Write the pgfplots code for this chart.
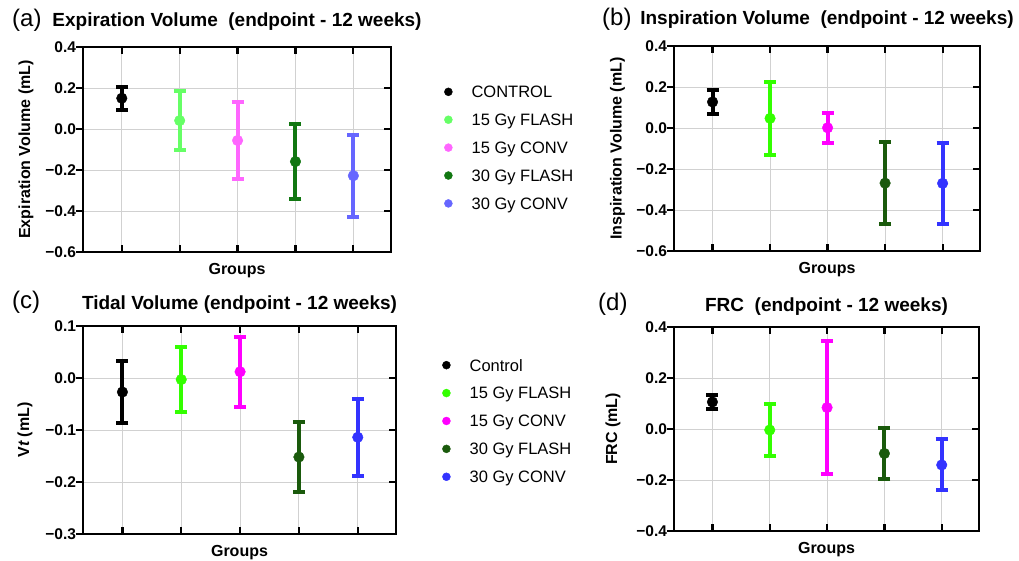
\documentclass[border=0pt]{standalone}
\usepackage{fontspec}
\setmainfont{Liberation Sans}
\usepackage{pgfplots}
\pgfplotsset{compat=1.18}

% colours of the two colour sets
\definecolor{aGreen}{RGB}{102,255,102}
\definecolor{aPink}{RGB}{255,102,255}
\definecolor{aDark}{RGB}{17,119,17}
\definecolor{aBlue}{RGB}{102,102,255}
\definecolor{bGreen}{RGB}{51,255,0}
\definecolor{bPink}{RGB}{255,0,255}
\definecolor{bDark}{RGB}{26,90,12}
\definecolor{bBlue}{RGB}{51,51,255}

\pgfplotsset{
  panel/.style={
    scale only axis,
    xmin=0.33, xmax=5.65,
    xtick={1,2,3,4,5}, xticklabels={,,,,},
    xtick align=inside, ytick align=center,
    ytick style={xshift=-3.5pt},
    major tick length=7pt,
    tick style={line width=2.2pt, black},
    separate axis lines,
    axis line style={line width=2.4pt, line cap=rect, black},
    grid=major, major grid style={line width=0.9pt, color=black!18},
    xlabel={Groups},
    xlabel style={at={(axis description cs:0.5,0)}, anchor=north, yshift=-8pt,
      font=\fontsize{16}{18}\selectfont\bfseries},
    ylabel style={at={(axis description cs:-0.185,0.5)}, anchor=center,
      font=\fontsize{16}{18}\selectfont\bfseries},
    yticklabel style={font=\fontsize{15.5}{17}\selectfont\bfseries},
    title style={at={(axis description cs:0.5,1)}, anchor=base,
      font=\fontsize{19}{21}\selectfont\bfseries},
    legend image code/.code={\fill[#1] (0pt,0pt) circle (4pt);},
    legend style={draw=none, fill=none, inner sep=0pt, row sep=16.1pt,
      font=\fontsize{16.5}{18}\selectfont,
      nodes={inner sep=0pt, text height=11.8pt, text depth=0pt},
      /tikz/every odd column/.append style={column sep=19pt},
      cells={anchor=west}},
  },
  eb/.style={only marks, mark=*, mark size=5.3pt,
    /pgfplots/error bars/y dir=both,
    /pgfplots/error bars/y explicit,
    /pgfplots/error bars/error bar style={line width=4pt},
    /pgfplots/error bars/error mark options={rotate=90, line width=4pt, mark size=6pt}},
}

\begin{document}
\begin{tikzpicture}

% (a) expiration volume
\begin{axis}[panel, at={(83pt,309pt)}, anchor=south west,
  width=308pt, height=205pt,
  ymin=-0.6, ymax=0.4,
  ytick={-0.6,-0.4,-0.2,0,0.2,0.4},
  yticklabels={−0.6,−0.4,−0.2,0.0,0.2,0.4},
  ylabel={Expiration Volume (mL)},
  title={Expiration Volume\ \ (endpoint - 12 weeks)},
  title style={yshift=14pt},
  legend style={at={(axis description cs:1.172,0.811)}, anchor=north west}]
\addplot[black, eb] coordinates {(1,0.150) +- (0,0.055)};
\addplot[aGreen, eb] coordinates {(2,0.041) +- (0,0.144)};
\addplot[aPink, eb] coordinates {(3,-0.056) +- (0,0.188)};
\addplot[aDark, eb] coordinates {(4,-0.159) +- (0,0.182)};
\addplot[aBlue, eb] coordinates {(5,-0.228) +- (0,0.200)};
\legend{CONTROL, 15 Gy FLASH, 15 Gy CONV, 30 Gy FLASH, 30 Gy CONV}
\end{axis}

% (b) inspiration volume
\begin{axis}[panel, at={(674pt,310pt)}, anchor=south west,
  width=306pt, height=205pt,
  ymin=-0.6, ymax=0.4,
  ytick={-0.6,-0.4,-0.2,0,0.2,0.4},
  yticklabels={−0.6,−0.4,−0.2,0.0,0.2,0.4},
  ylabel={Inspiration Volume (mL)},
  title={Inspiration Volume\ \ (endpoint - 12 weeks)},
  title style={yshift=15pt}]
\addplot[black, eb] coordinates {(1,0.127) +- (0,0.058)};
\addplot[bGreen, eb] coordinates {(2,0.047) +- (0,0.178)};
\addplot[bPink, eb] coordinates {(3,0.001) +- (0,0.073)};
\addplot[bDark, eb] coordinates {(4,-0.269) +- (0,0.201)};
\addplot[bBlue, eb] coordinates {(5,-0.270) +- (0,0.198)};
\end{axis}

% (c) tidal volume
\begin{axis}[panel, at={(83pt,27pt)}, anchor=south west,
  width=313pt, height=208pt,
  ymin=-0.3, ymax=0.1,
  ytick={-0.3,-0.2,-0.1,0,0.1},
  yticklabels={−0.3,−0.2,−0.1,0.0,0.1},
  ylabel={V{\itshape t} (mL)},
  title={Tidal Volume (endpoint - 12 weeks)},
  title style={yshift=10pt},
  legend style={at={(axis description cs:1.147,0.841)}, anchor=north west}]
\addplot[black, eb] coordinates {(1,-0.027) +- (0,0.059)};
\addplot[bGreen, eb] coordinates {(2,-0.003) +- (0,0.062)};
\addplot[bPink, eb] coordinates {(3,0.012) +- (0,0.067)};
\addplot[bDark, eb] coordinates {(4,-0.152) +- (0,0.067)};
\addplot[bBlue, eb] coordinates {(5,-0.114) +- (0,0.074)};
\legend{Control, 15 Gy FLASH, 15 Gy CONV, 30 Gy FLASH, 30 Gy CONV}
\end{axis}

% (d) FRC
\begin{axis}[panel, at={(674pt,30pt)}, anchor=south west,
  width=305pt, height=204pt,
  ymin=-0.4, ymax=0.4,
  ytick={-0.4,-0.2,0,0.2,0.4},
  yticklabels={−0.4,−0.2,0.0,0.2,0.4},
  ylabel={FRC (mL)},
  ylabel style={at={(axis description cs:-0.2,0.5)}},
  title={FRC\ \ (endpoint - 12 weeks)},
  title style={yshift=10pt}]
\addplot[black, eb] coordinates {(1,0.106) +- (0,0.029)};
\addplot[bGreen, eb] coordinates {(2,-0.004) +- (0,0.102)};
\addplot[bPink, eb] coordinates {(3,0.084) +- (0,0.260)};
\addplot[bDark, eb] coordinates {(4,-0.096) +- (0,0.099)};
\addplot[bBlue, eb] coordinates {(5,-0.141) +- (0,0.100)};
\end{axis}

% panel letters
\begin{scope}[every node/.style={anchor=base west, inner sep=0pt, font=\fontsize{24}{26}\selectfont}]
\node at (12pt,534pt) {(a)};
\node at (602pt,535pt) {(b)};
\node at (12pt,252pt) {(c)};
\node at (598pt,250pt) {(d)};
\end{scope}

\pgfresetboundingbox
\path (0pt,0pt) rectangle (1019pt,561pt);
\end{tikzpicture}
\end{document}
